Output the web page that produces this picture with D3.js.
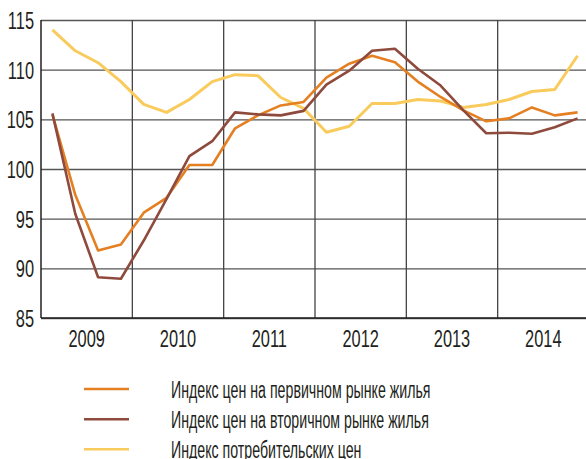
<!DOCTYPE html>
<html>
<head>
<meta charset="utf-8">
<script src="https://cdn.jsdelivr.net/npm/d3@7"></script>
<style>
  body { margin: 0; background: #fff; }
  text { font-family: "Liberation Sans", Arial, sans-serif; fill: #231f20; }
</style>
</head>
<body>
<svg id="chart"></svg>
<script>
// Quarterly data, 2009 Q1 .. 2014 Q4
const years = ["2009", "2010", "2011", "2012", "2013", "2014"];
const primaryIdx = [105.5, 97.4, 91.8, 92.4, 95.6, 97.1, 100.4, 100.4, 104.1, 105.4, 106.4, 106.75,
  109.2, 110.6, 111.4, 110.75, 108.8, 107.25, 105.9, 104.8, 105.1, 106.2, 105.4, 105.7];
const secondaryIdx = [105.6, 95.5, 89.1, 88.95, 92.8, 97.0, 101.3, 102.8, 105.7, 105.5, 105.4, 105.85,
  108.5, 109.9, 111.9, 112.1, 110.1, 108.4, 105.9, 103.6, 103.65, 103.55, 104.2, 105.1];
const cpiIdx = [114.0, 111.9, 110.7, 108.8, 106.5, 105.7, 107.0, 108.8, 109.5, 109.4, 107.2, 106.1,
  103.7, 104.3, 106.6, 106.6, 107.0, 106.85, 106.2, 106.5, 107.0, 107.8, 108.0, 111.4];
const yTicks = [85, 90, 95, 100, 105, 110, 115];
const seriesNames = [
  "Индекс цен на первичном рынке жилья",
  "Индекс цен на вторичном рынке жилья",
  "Индекс потребительских цен"
];
const colors = ["#e47f22", "#8e4b3d", "#f9cb5c"];

// condensed look: squeeze the installed sans horizontally
const squeeze = "scale(0.82,1.2)";

const margin = { top: 20, left: 41 };
const width = 548;
const height = 298;

const svg = d3.select("#chart").attr("width", 586).attr("height", 459);
const g = svg.append("g").attr("transform", `translate(${margin.left},${margin.top})`);

// x: quarter index, points at quarter centres
const x = d3.scaleLinear().domain([0, 24]).range([0, width]);
const y = d3.scaleLinear().domain([85, 115]).range([height, 0]);

// horizontal grid + y labels
const yAxis = d3.axisLeft(y).tickValues(yTicks).tickSize(-width);
const yg = g.append("g").call(yAxis);
yg.select(".domain").remove();
yg.selectAll(".tick line").attr("stroke", "#555").attr("stroke-width", 1.3);
yg.selectAll(".tick text")
  .attr("x", 0).attr("dy", 0)
  .attr("font-size", 20)
  .attr("transform", `translate(-7,8.6) ${squeeze}`);

// vertical year boundaries
g.append("g").selectAll("line")
  .data(d3.range(1, 7))
  .join("line")
  .attr("x1", (d) => x(d * 4)).attr("x2", (d) => x(d * 4))
  .attr("y1", 0).attr("y2", height)
  .attr("stroke", "#444").attr("stroke-width", 1.3);

// axes lines
g.append("line").attr("x1", 0).attr("x2", 0).attr("y1", 0).attr("y2", height)
  .attr("stroke", "#231f20").attr("stroke-width", 1.5);
g.append("line").attr("x1", 0).attr("x2", width).attr("y1", height).attr("y2", height)
  .attr("stroke", "#231f20").attr("stroke-width", 1.5);

// year labels
g.append("g").selectAll("text")
  .data(years)
  .join("text")
  .attr("text-anchor", "middle")
  .attr("font-size", 20)
  .attr("transform", (d, i) => `translate(${x(i * 4 + 2)},${height + 28.7}) ${squeeze}`)
  .text((d) => d);

// lines
const line = d3.line()
  .x((d, i) => x(i + 0.5))
  .y((d) => y(d));

const seriesData = [cpiIdx, primaryIdx, secondaryIdx];
const seriesColors = [colors[2], colors[0], colors[1]];
const seriesWidths = [3, 2.6, 2.6];
seriesData.forEach((s, k) => {
  g.append("path")
    .datum(s)
    .attr("fill", "none")
    .attr("stroke", seriesColors[k])
    .attr("stroke-width", seriesWidths[k])
    .attr("stroke-linejoin", "round")
    .attr("d", line);
});

// legend
const legend = svg.append("g");
const legendY = [389, 419.3, 449.3];
seriesNames.forEach((name, i) => {
  legend.append("line")
    .attr("x1", 84).attr("x2", 129)
    .attr("y1", legendY[i]).attr("y2", legendY[i])
    .attr("stroke", colors[i]).attr("stroke-width", 2.6);
  legend.append("text")
    .attr("font-size", 20)
    .attr("transform", `translate(171,${legendY[i] + 8.6}) scale(0.71,1.2)`)
    .text(name);
});
</script>
</body>
</html>
